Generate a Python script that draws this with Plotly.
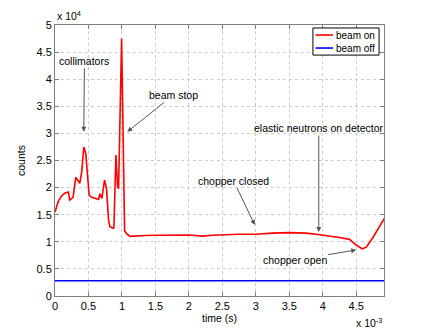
import plotly.graph_objects as go

# time in ms (axis shows x 10^-3 s), counts in units of 1e4 (axis shows x 10^4)
beam_on_t = [0, 0.05, 0.1, 0.15, 0.2, 0.22, 0.25, 0.27, 0.31, 0.35, 0.37, 0.4, 0.43,
             0.46, 0.49, 0.51, 0.55, 0.6, 0.65, 0.67, 0.70, 0.74, 0.77, 0.80, 0.82,
             0.87, 0.88, 0.91, 0.935, 0.95, 0.995, 1.04, 1.07, 1.12, 1.2, 1.35, 1.5,
             1.65, 1.8, 1.9, 2.0, 2.1, 2.2, 2.35, 2.5, 2.75, 3.0, 3.1, 3.25, 3.5, 3.75,
             3.96, 4.1, 4.25, 4.4, 4.5, 4.59, 4.65, 4.75, 4.85, 4.92]
beam_on_c = [1.55, 1.75, 1.85, 1.9, 1.92, 1.77, 1.8, 1.82, 2.19, 2.11, 2.08, 2.3, 2.75,
             2.63, 2.1, 1.86, 1.82, 1.8, 1.78, 1.89, 1.8, 2.14, 1.98, 1.4, 1.28,
             1.25, 1.26, 2.6, 2.02, 1.98, 4.75, 1.2, 1.15, 1.1, 1.11, 1.115, 1.12,
             1.12, 1.125, 1.13, 1.125, 1.115, 1.105, 1.12, 1.13, 1.14, 1.14, 1.15, 1.16, 1.17, 1.16,
             1.13, 1.11, 1.08, 1.045, 0.94, 0.87, 0.9, 1.08, 1.28, 1.43]

beam_off_t = [0, 1, 2, 3, 4, 4.92]
beam_off_c = [0.28, 0.28, 0.28, 0.28, 0.28, 0.28]

x_ticks = [0, 0.5, 1, 1.5, 2, 2.5, 3, 3.5, 4, 4.5]
y_ticks = [0, 0.5, 1, 1.5, 2, 2.5, 3, 3.5, 4, 4.5, 5]

legend_names = ["beam on", "beam off"]
legend_colors = ["#ff0000", "#0000ff"]

FONT = "Liberation Sans, Arial, Helvetica, sans-serif"

fig = go.Figure()
fig.add_trace(go.Scatter(x=beam_on_t, y=beam_on_c, mode="lines", name=legend_names[0],
                         line=dict(color=legend_colors[0], width=1.6)))
fig.add_trace(go.Scatter(x=beam_off_t, y=beam_off_c, mode="lines", name=legend_names[1],
                         line=dict(color=legend_colors[1], width=1.6)))

# arrows: (text, text x, text y, head x, head y)
notes = [
    ("collimators", 0.44, 4.34, 0.43, 3.03),
    ("beam stop", 1.77, 3.71, 1.08, 3.03),
    ("chopper closed", 2.665, 2.13, 2.985, 1.31),
    ("elastic neutrons on detector", 3.94, 3.1, 3.94, 1.18),
    ("chopper open", 3.58, 0.66, 4.5, 0.85),
]
for txt, tx, ty, hx, hy in notes:
    fig.add_annotation(x=hx, y=hy, ax=tx, ay=ty, axref="x", ayref="y", text=txt,
                       showarrow=True, arrowhead=2, arrowsize=1, arrowwidth=1,
                       arrowcolor="#555555", font=dict(size=10.5, color="black"),
                       borderpad=1)

fig.add_annotation(x=0, y=1.005, xref="paper", yref="paper", xanchor="left", yanchor="bottom",
                   text="x 10<sup>4</sup>", showarrow=False, font=dict(size=10.5, color="black"))
fig.add_annotation(x=1, y=-0.065, xref="paper", yref="paper", xanchor="right", yanchor="top",
                   text="x 10<sup>-3</sup>", showarrow=False, font=dict(size=10.5, color="black"))

# hand-made legend box, matlab style
fig.add_shape(type="rect", xref="paper", yref="paper", x0=0.784, x1=0.985, y0=0.889, y1=0.989,
              line=dict(color="black", width=1), fillcolor="white", layer="above")
for i, (name, col) in enumerate(zip(legend_names, legend_colors)):
    ly = 0.963 - i * 0.048
    fig.add_shape(type="line", xref="paper", yref="paper", x0=0.792, x1=0.845, y0=ly, y1=ly,
                  line=dict(color=col, width=1.6), layer="above")
    fig.add_annotation(x=0.848, y=ly, xref="paper", yref="paper", xanchor="left",
                       yanchor="middle", text=name, showarrow=False,
                       font=dict(size=10, color="black"))

axis_style = dict(showline=True, linecolor="#7f7f7f", linewidth=1, mirror="ticks",
                  ticks="inside", ticklen=4, tickcolor="#7f7f7f", showgrid=True,
                  gridcolor="#cccccc", griddash="dot", gridwidth=1, zeroline=False,
                  tickfont=dict(size=11, color="black"))

fig.update_xaxes(range=[0, 4.915], tickvals=x_ticks, ticktext=[f"{v:g}" for v in x_ticks],
                 title=dict(text="time (s)", standoff=2, font=dict(size=10.5, color="black")),
                 **axis_style)
fig.update_yaxes(range=[0, 5], tickvals=y_ticks, ticktext=[f"{v:g}" for v in y_ticks],
                 title=dict(text="counts", standoff=8, font=dict(size=10.5, color="black")),
                 **axis_style)

# page body has an 8px margin, so the margins are set 8px smaller on the left/top
fig.update_layout(
    width=425, height=333,
    margin=dict(l=47, r=49, t=17, b=45, autoexpand=False),
    paper_bgcolor="white", plot_bgcolor="white",
    font=dict(family=FONT, size=10.5, color="black"),
    showlegend=False,
)

fig.write_html("out.html")
